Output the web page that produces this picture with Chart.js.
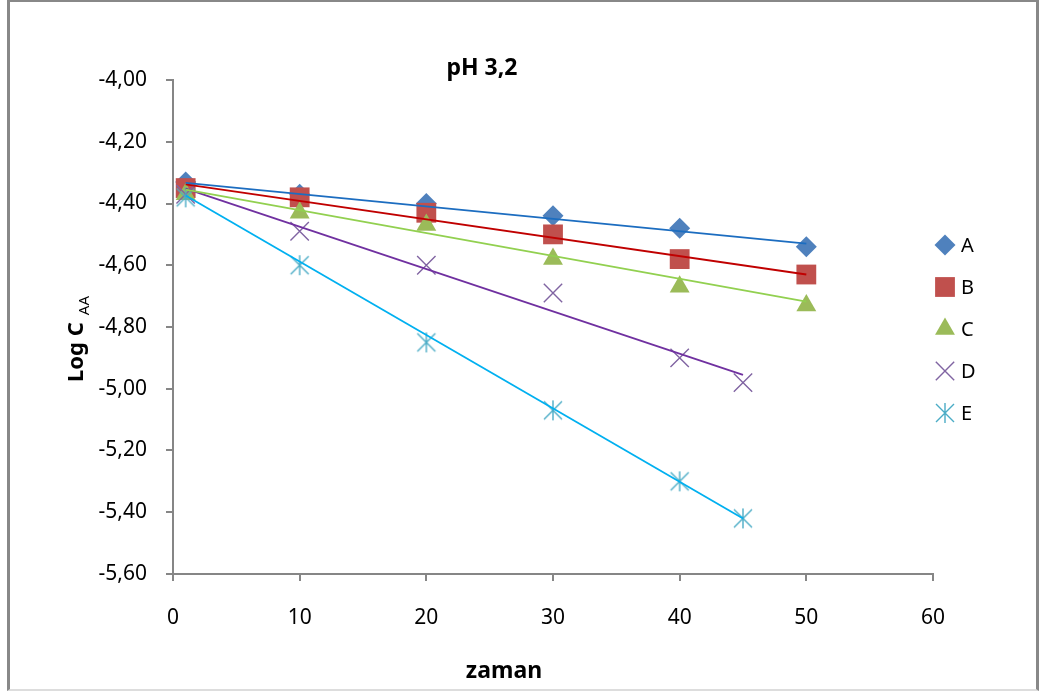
<!DOCTYPE html>
<html lang="tr">
<head>
  <meta charset="UTF-8">
  <title>pH 3,2</title>
  <script src="https://cdn.jsdelivr.net/npm/chart.js"></script>
  <style>
    body {
      margin: 0;
      padding: 0;
      background: #fff;
    }
    .wrap {
      position: relative;
      width: 1042px;
      height: 693px;
    }
    .frame {
      position: absolute;
      left: 7px;
      top: 0;
      width: 1026px;
      height: 687px;
      border-left: 3px solid #888;
      border-top: 2px solid #888;
      border-right: 3px solid #888;
      border-bottom: 2px solid #ddd;
      pointer-events: none;
    }
  </style>
</head>
<body>
  <div class="wrap">
    <canvas id="chart" width="1042" height="693"></canvas>
    <div class="frame"></div>
  </div>

  <script>
    // time values (zaman)
    const timesABC = [1, 10, 20, 30, 40, 50];
    const timesDE = [1, 10, 20, 30, 40, 45];

    // measured Log C_AA
    const valuesA = [-4.33, -4.37, -4.40, -4.44, -4.48, -4.54];
    const valuesB = [-4.35, -4.38, -4.43, -4.50, -4.58, -4.63];
    const valuesC = [-4.37, -4.43, -4.47, -4.58, -4.67, -4.73];
    const valuesD = [-4.37, -4.49, -4.60, -4.69, -4.90, -4.98];
    const valuesE = [-4.38, -4.60, -4.85, -5.07, -5.30, -5.42];

    // trend line ends
    const trendTimesABC = [1, 50];
    const trendTimesDE = [1, 45];
    const trendA = [-4.333, -4.530];
    const trendB = [-4.338, -4.630];
    const trendC = [-4.355, -4.718];
    const trendD = [-4.352, -4.955];
    const trendE = [-4.374, -5.420];

    const seriesNames = ['A', 'B', 'C', 'D', 'E'];
    const markerColors = ['#4F81BD', '#C0504D', '#9BBB59', '#8064A2', '#4BACC6'];
    const lineColors = ['#1C6DC0', '#C00000', '#92D050', '#7030A0', '#00B0F0'];

    function pts(xs, ys) {
      return xs.map((x, i) => ({ x: x, y: ys[i] }));
    }

    // excel style asterisk: X plus a vertical bar
    function makeAsterisk(color) {
      const c = document.createElement('canvas');
      c.width = 22;
      c.height = 22;
      const g = c.getContext('2d');
      g.strokeStyle = color;
      g.lineWidth = 1.4;
      g.beginPath();
      g.moveTo(2, 2); g.lineTo(20, 20);
      g.moveTo(20, 2); g.lineTo(2, 20);
      g.moveTo(11, 1); g.lineTo(11, 21);
      g.stroke();
      return c;
    }
    const asterisk = makeAsterisk('#4BACC6');

    const styles = [
      { pointStyle: 'rectRot', radius: 10.5, border: 0 },
      { pointStyle: 'rect', radius: 14, border: 0 },
      { pointStyle: 'triangle', radius: 11.5, border: 0 },
      { pointStyle: 'crossRot', radius: 13, border: 1.4 },
      { pointStyle: asterisk, radius: 11, border: 1.4 }
    ];

    const markerSets = [
      pts(timesABC, valuesA),
      pts(timesABC, valuesB),
      pts(timesABC, valuesC),
      pts(timesDE, valuesD),
      pts(timesDE, valuesE)
    ];
    const trendSets = [
      pts(trendTimesABC, trendA),
      pts(trendTimesABC, trendB),
      pts(trendTimesABC, trendC),
      pts(trendTimesDE, trendD),
      pts(trendTimesDE, trendE)
    ];

    const datasets = [];
    seriesNames.forEach((name, i) => {
      datasets.push({
        label: name,
        data: markerSets[i],
        showLine: false,
        pointStyle: styles[i].pointStyle,
        pointRadius: styles[i].radius,
        pointHoverRadius: styles[i].radius,
        backgroundColor: markerColors[i],
        borderColor: markerColors[i],
        pointBorderWidth: styles[i].border,
        order: 5 - i
      });
    });
    seriesNames.forEach((name, i) => {
      datasets.push({
        label: name + ' trend',
        data: trendSets[i],
        showLine: true,
        pointRadius: 0,
        borderColor: lineColors[i],
        borderWidth: 1.8,
        fill: false,
        order: 0
      });
    });

    const FONT = "'Noto Sans', sans-serif";

    // title, axis titles and legend drawn by hand to match the positions
    const decorations = {
      id: 'decorations',
      afterDraw(chart) {
        const ctx = chart.ctx;
        ctx.save();
        ctx.fillStyle = '#000';

        ctx.font = 'bold 23px ' + FONT;
        ctx.textAlign = 'center';
        ctx.textBaseline = 'middle';
        ctx.fillText('pH 3,2', 482, 68);
        ctx.fillText('zaman', 504, 671);

        // y axis title with subscript
        ctx.save();
        ctx.translate(83, 382);
        ctx.rotate(-Math.PI / 2);
        ctx.textAlign = 'left';
        ctx.textBaseline = 'alphabetic';
        ctx.font = 'bold 22px ' + FONT;
        ctx.fillText('Log C', 0, 0);
        const w = ctx.measureText('Log C').width;
        ctx.font = '15px ' + FONT;
        ctx.fillText('AA', w + 7, 6);
        ctx.restore();

        // legend
        const rows = [245, 287, 329, 371, 413];
        ctx.font = '20px ' + FONT;
        ctx.textAlign = 'left';
        ctx.textBaseline = 'middle';
        seriesNames.forEach((name, i) => {
          ctx.fillStyle = markerColors[i];
          ctx.strokeStyle = markerColors[i];
          ctx.lineWidth = styles[i].border;
          Chart.helpers.drawPoint(ctx, {
            pointStyle: styles[i].pointStyle,
            radius: styles[i].radius,
            rotation: 0,
            borderWidth: styles[i].border
          }, 945, rows[i]);
          ctx.fillStyle = '#000';
          ctx.fillText(name, 961, rows[i] + 1);
        });
        ctx.restore();
      }
    };

    const chart = new Chart(document.getElementById('chart'), {
      type: 'scatter',
      data: { datasets: datasets },
      options: {
        responsive: false,
        animation: false,
        layout: {
          padding: { top: 80, right: 109, left: 0, bottom: 0 }
        },
        plugins: {
          legend: { display: false },
          title: { display: false },
          tooltip: { enabled: false }
        },
        scales: {
          x: {
            type: 'linear',
            min: 0,
            max: 60,
            ticks: {
              stepSize: 10,
              color: '#000',
              font: { family: FONT, size: 21 },
              padding: 24
            },
            grid: {
              display: true,
              drawOnChartArea: false,
              drawTicks: true,
              tickLength: 7,
              color: '#868686',
              lineWidth: 2
            },
            border: { color: '#868686', width: 2 },
            afterFit(scale) { scale.height = 119; }
          },
          y: {
            type: 'linear',
            min: -5.6,
            max: -4.0,
            ticks: {
              stepSize: 0.2,
              color: '#000',
              font: { family: FONT, size: 21 },
              padding: 19,
              callback: v => v.toFixed(2).replace('.', ',')
            },
            grid: {
              display: true,
              drawOnChartArea: false,
              drawTicks: true,
              tickLength: 7,
              color: '#868686',
              lineWidth: 2
            },
            border: { color: '#868686', width: 2 },
            afterFit(scale) { scale.width = 173; }
          }
        }
      },
      plugins: [decorations]
    });
  </script>
</body>
</html>
